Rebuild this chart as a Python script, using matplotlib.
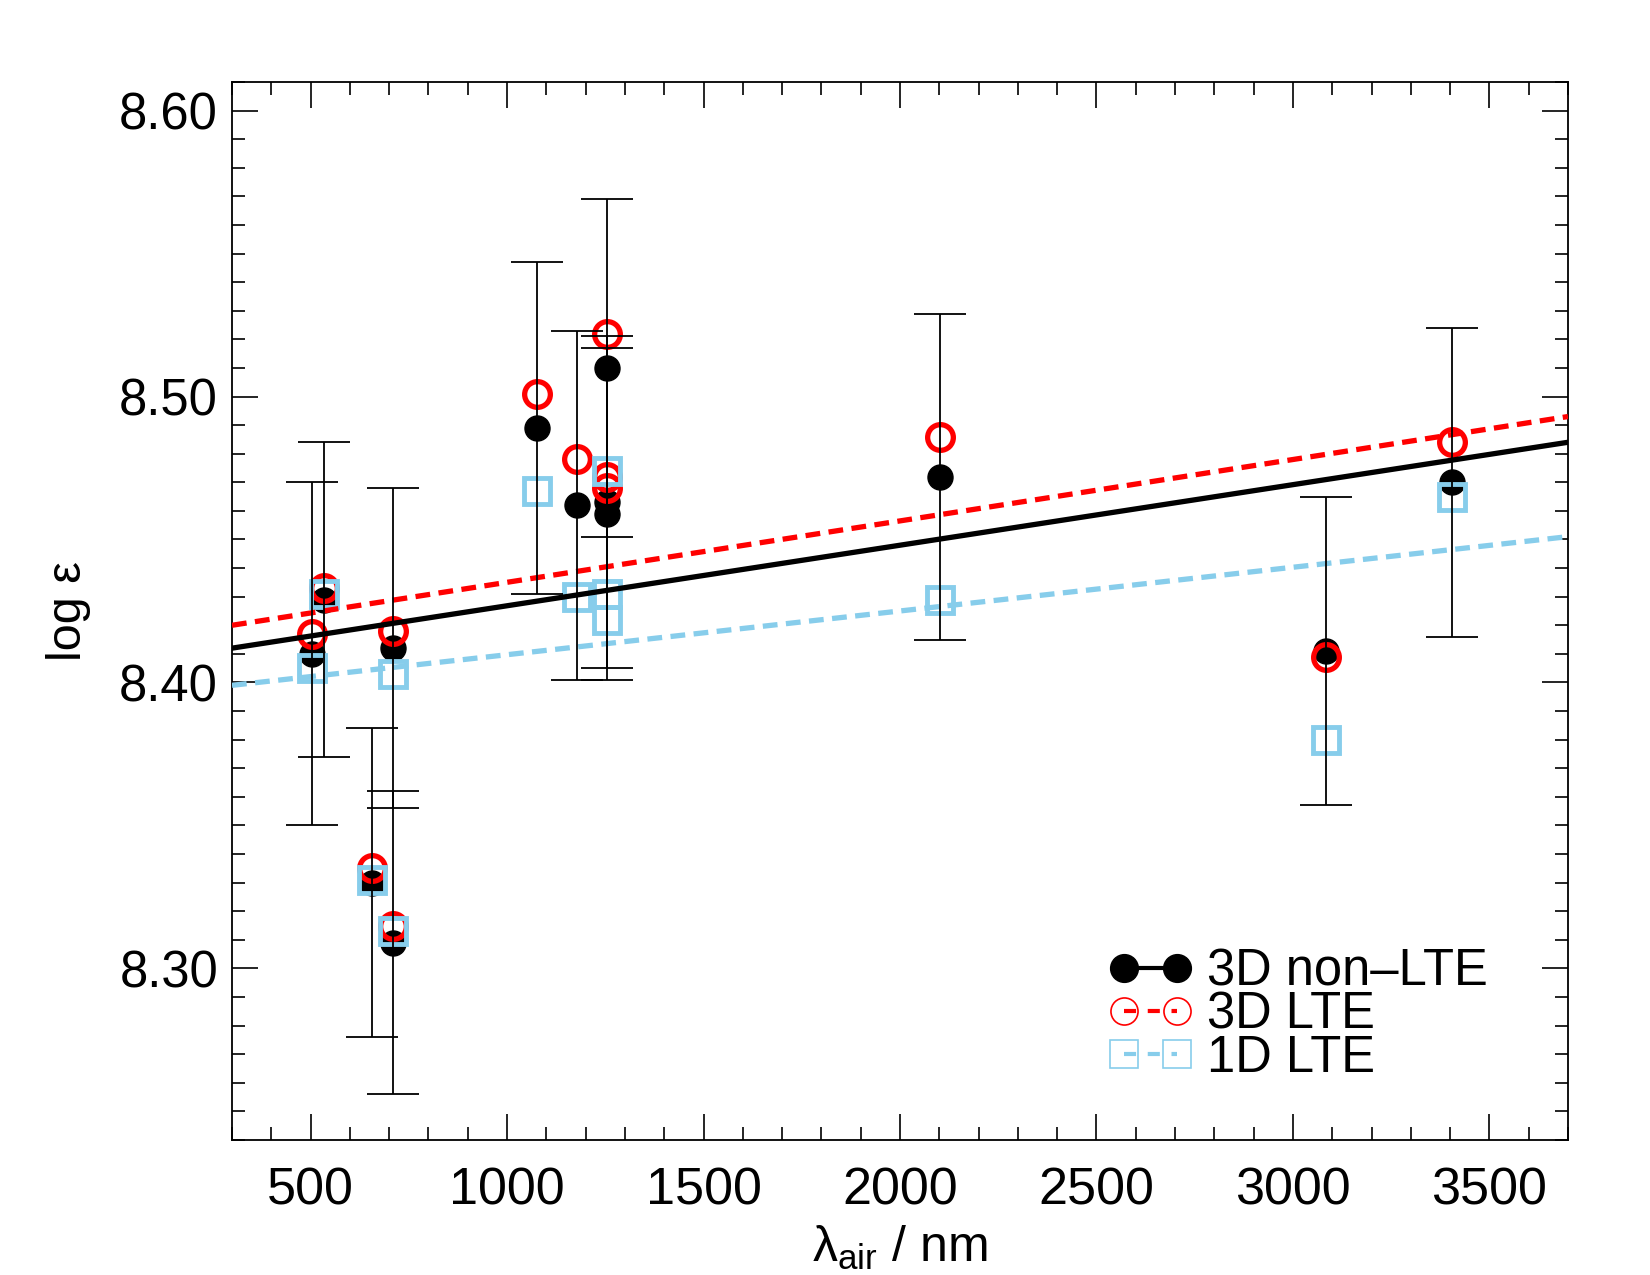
import matplotlib
matplotlib.use("Agg")
import matplotlib.pyplot as plt
from matplotlib.lines import Line2D
from matplotlib.ticker import MultipleLocator, FormatStrFormatter

plt.rcParams["font.family"] = ["Liberation Sans", "DejaVu Sans"]
plt.rcParams["mathtext.fontset"] = "custom"
plt.rcParams["mathtext.rm"] = "Liberation Sans"

# line wavelengths (nm) and abundances
wave = [504, 535, 657, 710, 710, 1076, 1178, 1255, 1255, 1255, 2101, 3083, 3404]
nlte_3d = [8.410, 8.429, 8.330, 8.412, 8.309, 8.489, 8.462, 8.510, 8.463, 8.459,
           8.472, 8.411, 8.470]
lte_3d = [8.417, 8.433, 8.335, 8.418, 8.315, 8.501, 8.478, 8.522, 8.472, 8.468,
          8.486, 8.409, 8.484]
lte_1d = [8.405, 8.431, 8.331, 8.403, 8.313, 8.467, 8.430, 8.474, 8.431, 8.422,
          8.429, 8.380, 8.465]
err = [0.060, 0.055, 0.054, 0.056, 0.053, 0.058, 0.061, 0.059, 0.058, 0.058,
       0.057, 0.054, 0.054]

# trend lines, read at the plot edges
fit_x = [300, 3700]
fit_nlte_3d = [8.412, 8.484]
fit_lte_3d = [8.420, 8.493]
fit_lte_1d = [8.399, 8.451]

RED = "#ff0000"
BLUE = "#87cdeb"

fig = plt.figure(figsize=(16.5, 12.75), dpi=100)
ax = fig.add_axes([0.1406, 0.1059, 0.8097, 0.8298])

ax.plot(wave, nlte_3d, "o", color="k", ms=18, ls="none", zorder=3)
ax.plot(wave, lte_3d, "o", mfc="none", mec=RED, ms=18.5, mew=3.8, ls="none",
        zorder=4)
ax.plot(wave, lte_1d, "s", mfc="none", mec=BLUE, ms=18.5, mew=3.5, ls="none",
        zorder=5)

ax.plot(fit_x, fit_nlte_3d, "-", color="k", lw=3.8, zorder=6)
ax.plot(fit_x, fit_lte_3d, color=RED, lw=3.8, ls=(0, (2.8, 1.6)), zorder=6)
ax.plot(fit_x, fit_lte_1d, color=BLUE, lw=3.8, ls=(0, (2.8, 1.6)), zorder=6)

ax.errorbar(wave, nlte_3d, yerr=err, fmt="none", ecolor="k", elinewidth=1.3,
            capsize=19, capthick=1.3, zorder=7)

ax.set_xlim(300, 3700)
ax.set_ylim(8.24, 8.61)
ax.xaxis.set_major_locator(MultipleLocator(500))
ax.xaxis.set_minor_locator(MultipleLocator(100))
ax.yaxis.set_major_locator(MultipleLocator(0.1))
ax.yaxis.set_minor_locator(MultipleLocator(0.01))
ax.yaxis.set_major_formatter(FormatStrFormatter("%.2f"))
ax.tick_params(which="both", direction="in", top=True, right=True, width=1.2)
ax.tick_params(which="major", length=18.5)
ax.tick_params(which="minor", length=9.5)
ax.tick_params(axis="x", pad=19, labelsize=37.5)
ax.tick_params(axis="y", pad=10, labelsize=36.5)
for sp in ax.spines.values():
    sp.set_linewidth(1.3)

ax.set_xlabel("λ$_{\\mathrm{air}}$ / nm", fontsize=36, labelpad=6)
ax.set_ylabel("log ε", fontsize=35, labelpad=20)

handles = [
    Line2D([], [], color="k", lw=3, marker="o", ms=20),
    Line2D([], [], color=RED, lw=3, ls=(0, (2.9, 2.8)), marker="o", ms=19.5,
           mfc="none", mec=RED, mew=1.2),
    Line2D([], [], color=BLUE, lw=3, ls=(0, (2.9, 2.8)), marker="s", ms=19.5,
           mfc="none", mec=BLUE, mew=1.2),
]
labels = ["3D non\u2013LTE", "3D LTE", "1D LTE"]
ax.legend(handles, labels, loc="center left", bbox_to_anchor=(0.656, 0.118),
          frameon=False, fontsize=36.5, numpoints=2, handlelength=1.65,
          handletextpad=0.3, labelspacing=-0.12, borderpad=0, borderaxespad=0)

fig.savefig("out.png", dpi=100)
